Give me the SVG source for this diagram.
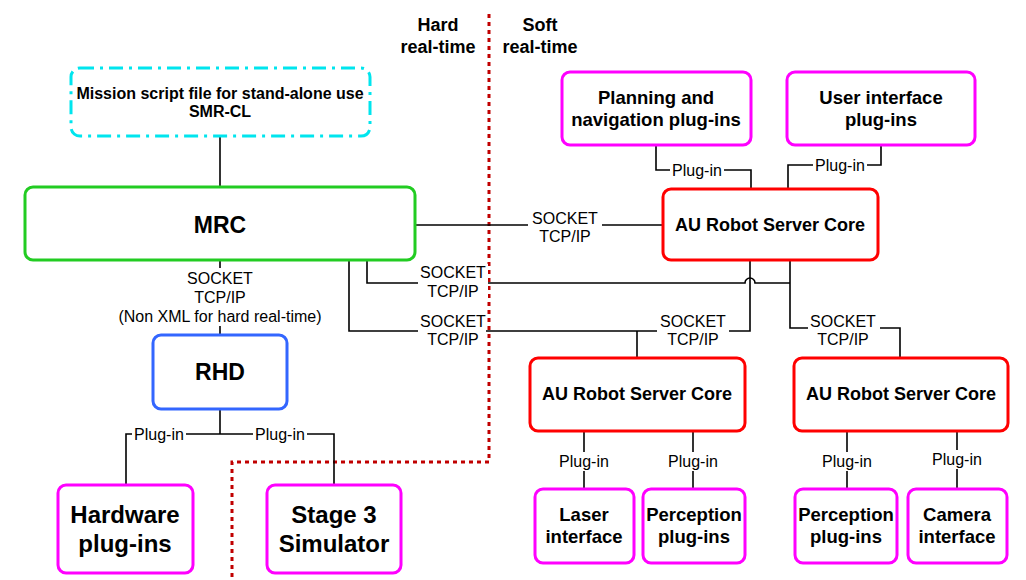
<svg xmlns="http://www.w3.org/2000/svg" width="1026" height="580" viewBox="0 0 1026 580">
<style>
.box{fill:#fff;stroke-width:3}
.mag{stroke:#ff00ff}
.red{stroke:#ff0000}
.t{font-family:"Liberation Sans",Arial,sans-serif;font-weight:bold;text-anchor:middle;fill:#000}
.l{font-family:"Liberation Sans",Arial,sans-serif;font-size:16px;text-anchor:middle;fill:#000}
.c{fill:none;stroke:#000;stroke-width:1.6}
.bg{fill:#fff}
</style>
<rect width="1026" height="580" fill="#fff"/>
<g id="divider">
<polyline points="489,14 489,462 232,462 232,580" fill="none" stroke="#c00000" stroke-width="3" stroke-dasharray="4,4"/>
<text class="t" x="438" y="31" font-size="18">Hard</text>
<text class="t" x="438" y="53" font-size="18">real-time</text>
<text class="t" x="540" y="31" font-size="18">Soft</text>
<text class="t" x="540" y="53" font-size="18">real-time</text>
</g>
<g id="connectors">
<line class="c" x1="220" y1="136" x2="220" y2="187"/>
<line class="c" x1="415" y1="225" x2="663" y2="225"/>
<rect class="bg" x="528" y="209" width="74" height="38"/>
<text class="l" x="565" y="224">SOCKET</text>
<text class="l" x="565" y="242">TCP/IP</text>
<polyline class="c" points="656,145 656,170 751,170 751,189"/>
<rect class="bg" x="670" y="161" width="54" height="18"/>
<text class="l" x="697" y="176">Plug-in</text>
<polyline class="c" points="881,145 881,165 788,165 788,189"/>
<rect class="bg" x="813" y="156" width="54" height="18"/>
<text class="l" x="840" y="171">Plug-in</text>
<path class="c" d="M367,260 V283 H745 A5,5 0 0 1 755,283 H790"/>
<rect class="bg" x="418" y="264" width="70" height="38"/>
<text class="l" x="453" y="278">SOCKET</text>
<text class="l" x="453" y="297">TCP/IP</text>
<polyline class="c" points="790,260 790,328 900,328 900,358"/>
<rect class="bg" x="808" y="313" width="72" height="36"/>
<text class="l" x="843" y="327">SOCKET</text>
<text class="l" x="843" y="345">TCP/IP</text>
<polyline class="c" points="349,260 349,331 750,331 750,260"/>
<line class="c" x1="637" y1="331" x2="637" y2="358"/>
<rect class="bg" x="418" y="313" width="68" height="36"/>
<text class="l" x="453" y="327">SOCKET</text>
<text class="l" x="453" y="345">TCP/IP</text>
<rect class="bg" x="657" y="313" width="72" height="36"/>
<text class="l" x="693" y="327">SOCKET</text>
<text class="l" x="693" y="345">TCP/IP</text>
<line class="c" x1="220" y1="260" x2="220" y2="335"/>
<rect class="bg" x="118" y="268" width="204" height="58"/>
<text class="l" x="220" y="284">SOCKET</text>
<text class="l" x="220" y="303">TCP/IP</text>
<text class="l" x="220" y="322">(Non XML for hard real-time)</text>
<line class="c" x1="220" y1="409" x2="220" y2="434"/>
<polyline class="c" points="126,485 126,434 334,434 334,485"/>
<rect class="bg" x="132" y="425" width="54" height="18"/>
<text class="l" x="159" y="440">Plug-in</text>
<rect class="bg" x="253" y="425" width="54" height="18"/>
<text class="l" x="280" y="440">Plug-in</text>
<line class="c" x1="584" y1="431" x2="584" y2="489"/>
<line class="c" x1="693" y1="431" x2="693" y2="489"/>
<line class="c" x1="847" y1="431" x2="847" y2="489"/>
<line class="c" x1="957" y1="431" x2="957" y2="489"/>
<rect class="bg" x="557" y="452" width="54" height="19"/>
<text class="l" x="584" y="467">Plug-in</text>
<rect class="bg" x="666" y="452" width="54" height="19"/>
<text class="l" x="693" y="467">Plug-in</text>
<rect class="bg" x="820" y="452" width="54" height="19"/>
<text class="l" x="847" y="467">Plug-in</text>
<rect class="bg" x="930" y="450" width="54" height="19"/>
<text class="l" x="957" y="465">Plug-in</text>
</g>
<g id="mission">
<rect x="71" y="68" width="299" height="68" rx="9" fill="#fff" stroke="#00e5ee" stroke-width="3" stroke-dasharray="14,6,3,6"/>
<text class="t" x="220" y="99" font-size="16">Mission script file for stand-alone use</text>
<text class="t" x="220" y="117" font-size="16">SMR-CL</text>
</g>
<g id="mrc">
<rect class="box" x="25" y="187" width="390" height="73" rx="8" stroke="#22cc22"/>
<text class="t" x="220" y="233" font-size="23">MRC</text>
</g>
<g id="rhd">
<rect class="box" x="153" y="335" width="134" height="74" rx="8" stroke="#3366ff"/>
<text class="t" x="220" y="380" font-size="23">RHD</text>
</g>
<g id="hardware">
<rect class="box mag" x="58" y="485" width="135" height="88" rx="8"/>
<text class="t" x="125" y="523" font-size="24">Hardware</text>
<text class="t" x="125" y="552" font-size="24">plug-ins</text>
</g>
<g id="stage">
<rect class="box mag" x="267" y="485" width="134" height="88" rx="8"/>
<text class="t" x="334" y="523" font-size="24">Stage 3</text>
<text class="t" x="334" y="552" font-size="24">Simulator</text>
</g>
<g id="planning">
<rect class="box mag" x="562" y="72" width="189" height="73" rx="8"/>
<text class="t" x="656" y="104" font-size="18.5">Planning and</text>
<text class="t" x="656" y="126" font-size="18.5">navigation plug-ins</text>
</g>
<g id="ui">
<rect class="box mag" x="787" y="72" width="188" height="73" rx="8"/>
<text class="t" x="881" y="104" font-size="18.5">User interface</text>
<text class="t" x="881" y="126" font-size="18.5">plug-ins</text>
</g>
<g id="core-top">
<rect class="box red" x="663" y="189" width="215" height="71" rx="8"/>
<text class="t" x="770" y="231" font-size="18">AU Robot Server Core</text>
</g>
<g id="core-mid">
<rect class="box red" x="530" y="358" width="215" height="73" rx="8"/>
<text class="t" x="637" y="400" font-size="18">AU Robot Server Core</text>
</g>
<g id="core-right">
<rect class="box red" x="794" y="358" width="214" height="73" rx="8"/>
<text class="t" x="901" y="400" font-size="18">AU Robot Server Core</text>
</g>
<g id="laser">
<rect class="box mag" x="535" y="489" width="99" height="74" rx="8"/>
<text class="t" x="584" y="521" font-size="18.5">Laser</text>
<text class="t" x="584" y="543" font-size="18.5">interface</text>
</g>
<g id="perception1">
<rect class="box mag" x="643" y="489" width="102" height="74" rx="8"/>
<text class="t" x="694" y="521" font-size="18.5">Perception</text>
<text class="t" x="694" y="543" font-size="18.5">plug-ins</text>
</g>
<g id="perception2">
<rect class="box mag" x="795" y="489" width="102" height="74" rx="8"/>
<text class="t" x="846" y="521" font-size="18.5">Perception</text>
<text class="t" x="846" y="543" font-size="18.5">plug-ins</text>
</g>
<g id="camera">
<rect class="box mag" x="908" y="489" width="99" height="74" rx="8"/>
<text class="t" x="957" y="521" font-size="18.5">Camera</text>
<text class="t" x="957" y="543" font-size="18.5">interface</text>
</g>
</svg>
